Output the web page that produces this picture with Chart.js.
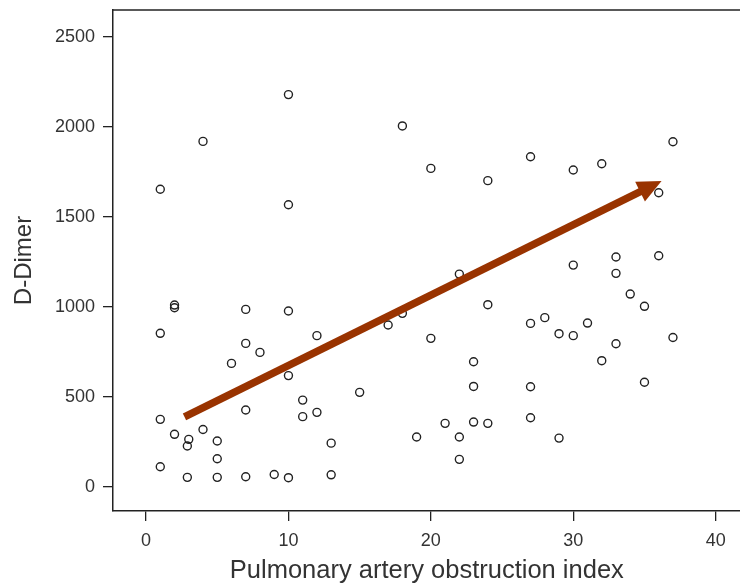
<!DOCTYPE html>
<html>
<head>
<meta charset="utf-8">
<script src="https://cdn.jsdelivr.net/npm/chart.js@4.4.1/dist/chart.umd.min.js"></script>
<style>
  html, body { margin: 0; padding: 0; background: #fff; overflow: hidden; width: 740px; height: 585px; }
  canvas { display: block; }
</style>
</head>
<body>
<!-- a bit wider than the window: the right side of the frame is cut off like in the original -->
<canvas id="myChart" width="746" height="585"></canvas>
<script>
// obstruction index (x) and D-Dimer (y)
const obstruction = [1,1,1,1, 2,2,2, 2.9,3,2.9, 4,4, 5,5,5, 6, 7,7,7,7, 8, 9,
  10,10,10,10,10, 11,11, 12,12, 13,13, 15, 17, 18,18, 19, 20,20, 21, 22,22,22,
  23,23,23, 24,24,24, 27,27,27,27, 28, 29,29, 30,30,30, 31, 32,32, 33,33,33, 34,
  35,35, 36,36, 37,37];
const dDimer = [113,376,854,1654, 293,1011,996, 228,265,54, 1920,320, 256,157,54, 687, 987,798,428,57, 748, 70,
  2180,1568,978,619,52, 483,391, 841,415, 244,68, 526, 900, 965,2006, 278, 1770,826, 354, 1183,278,154,
  696,559,361, 1702,1013,354, 1835,909,557,385, 941, 852,272, 1761,1233,841, 911, 1796,702, 1278,1187,796, 1072,
  1004,582, 1635,1285, 1918,831];

const xTicks = [0, 10, 20, 30, 40];
const yTicks = [0, 500, 1000, 1500, 2000, 2500];

// trend arrow, start and tip in data units
const arrowFrom = [2.7, 390];
const arrowTo = [36.2, 1700];

const puntos = obstruction.map((x, i) => ({ x: x, y: dDimer[i] }));

const arrowPlugin = {
  id: 'arrow',
  afterDatasetsDraw(chart) {
    const ctx = chart.ctx;
    const sx = chart.scales.x, sy = chart.scales.y;
    const x1 = sx.getPixelForValue(arrowFrom[0]), y1 = sy.getPixelForValue(arrowFrom[1]);
    const x2 = sx.getPixelForValue(arrowTo[0]), y2 = sy.getPixelForValue(arrowTo[1]);
    const ang = Math.atan2(y2 - y1, x2 - x1);
    const headLen = 24, headW = 11;
    const bx = x2 - headLen * Math.cos(ang), by = y2 - headLen * Math.sin(ang);
    ctx.save();
    ctx.strokeStyle = '#993300';
    ctx.fillStyle = '#993300';
    ctx.lineWidth = 7.5;
    ctx.lineCap = 'butt';
    ctx.beginPath();
    ctx.moveTo(x1, y1);
    ctx.lineTo(bx + 2 * Math.cos(ang), by + 2 * Math.sin(ang));
    ctx.stroke();
    ctx.beginPath();
    ctx.moveTo(x2, y2);
    ctx.lineTo(bx - headW * Math.sin(ang), by + headW * Math.cos(ang));
    ctx.lineTo(bx + headW * Math.sin(ang), by - headW * Math.cos(ang));
    ctx.closePath();
    ctx.fill();
    ctx.restore();
  }
};

// top line of the frame
const framePlugin = {
  id: 'frame',
  afterDraw(chart) {
    const { ctx, chartArea } = chart;
    ctx.save();
    ctx.strokeStyle = '#222';
    ctx.lineWidth = 1.5;
    ctx.beginPath();
    ctx.moveTo(chartArea.left, chartArea.top);
    ctx.lineTo(chartArea.right, chartArea.top);
    ctx.stroke();
    ctx.restore();
  }
};

const fuente = "'Liberation Sans', Arial, sans-serif";
const sinComas = v => String(v);

const ctx = document.getElementById('myChart').getContext('2d');
const myChart = new Chart(ctx, {
  type: 'scatter',
  data: {
    datasets: [{
      data: puntos,
      pointStyle: 'circle',
      pointRadius: 4,
      pointHoverRadius: 4,
      backgroundColor: 'rgba(255,255,255,0)',
      borderColor: '#222',
      borderWidth: 1.4
    }]
  },
  options: {
    responsive: false,
    devicePixelRatio: 1,
    animation: false,
    layout: { padding: { top: 10, right: 0, left: 0, bottom: 0 } },
    plugins: {
      legend: { display: false },
      tooltip: { enabled: false }
    },
    scales: {
      x: {
        type: 'linear',
        min: -2.32,
        max: 41.75,
        afterBuildTicks: s => { s.ticks = xTicks.map(v => ({ value: v })); },
        afterFit: s => { s.height = 74; },
        border: { display: true, color: '#222', width: 1.5 },
        grid: { drawOnChartArea: false, drawTicks: true, tickLength: 10, color: '#222', lineWidth: 1.3 },
        ticks: { color: '#333', padding: 9, maxRotation: 0, callback: sinComas, font: { family: fuente, size: 18 } },
        title: {
          display: true,
          text: 'Pulmonary artery obstruction index',
          color: '#333',
          padding: { top: 0, bottom: 1 },
          font: { family: fuente, size: 25.5, lineHeight: 1 }
        }
      },
      y: {
        type: 'linear',
        min: -133,
        max: 2650,
        afterBuildTicks: s => { s.ticks = yTicks.map(v => ({ value: v })); },
        afterFit: s => { s.width = 113; s.paddingTop = 0; s.paddingBottom = 0; },
        border: { display: true, color: '#222', width: 1.5 },
        grid: { drawOnChartArea: false, drawTicks: true, tickLength: 10, color: '#222', lineWidth: 1.3 },
        ticks: { color: '#333', padding: 8, callback: sinComas, font: { family: fuente, size: 18 } },
        title: {
          display: true,
          text: 'D-Dimer',
          color: '#333',
          padding: { top: 12, bottom: 0 },
          font: { family: fuente, size: 24, lineHeight: 1 }
        }
      }
    }
  },
  plugins: [arrowPlugin, framePlugin]
});
</script>
</body>
</html>
